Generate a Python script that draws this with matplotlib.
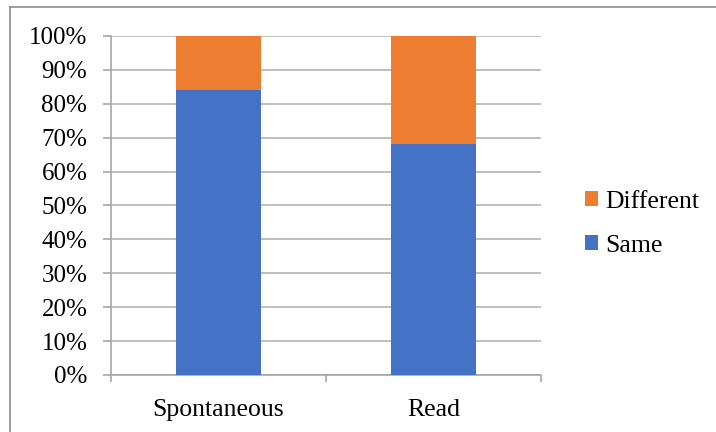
import matplotlib
matplotlib.use("Agg")
import matplotlib.pyplot as plt
from matplotlib.lines import Line2D
from matplotlib.ticker import PercentFormatter, FixedLocator

plt.rcParams['font.family'] = ['Liberation Serif', 'DejaVu Serif']

categories = ["Spontaneous", "Read"]
same = [84, 68]
different = [16, 32]

blue = "#4472C4"
orange = "#ED7D31"
gray = "#A6A6A6"

fig = plt.figure(figsize=(7.16, 4.32), dpi=100)
ax = fig.add_axes([0.155, 0.132, 0.6006, 0.7847])

x = list(range(len(categories)))
b1 = ax.bar(x, same, width=0.395, color=blue, label="Same", zorder=3)
b2 = ax.bar(x, different, width=0.395, bottom=same, color=orange,
            label="Different", zorder=3)

ax.set_xlim(-0.5, len(categories) - 0.5)
ax.set_ylim(0, 100)
ax.set_yticks(range(0, 101, 10))
ax.yaxis.set_major_formatter(PercentFormatter(decimals=0))
ax.yaxis.grid(True, color="#B4B4B4", linewidth=1.2, zorder=0)
ax.set_axisbelow(True)

ax.set_xticks(x)
ax.set_xticklabels(categories)
ax.xaxis.set_minor_locator(FixedLocator([i - 0.5 for i in range(len(categories) + 1)]))
ax.tick_params(axis='x', which='major', length=0, pad=17, labelsize=18.5)
ax.tick_params(axis='x', which='minor', length=5, width=1.2, color=gray, direction='out')
ax.tick_params(axis='y', length=6, width=1.2, color=gray, pad=11, labelsize=18)

for side in ("top", "right"):
    ax.spines[side].set_visible(False)
for side in ("left", "bottom"):
    ax.spines[side].set_color(gray)
    ax.spines[side].set_linewidth(1.2)

ax.legend([b2, b1], ["Different", "Same"], loc="center left",
          bbox_to_anchor=(0.817, 0.482), bbox_transform=fig.transFigure,
          frameon=False, fontsize=18.5, handlelength=0.5, handleheight=0.5,
          handletextpad=0.3, labelspacing=0.85, borderpad=0, borderaxespad=0)

# thin frame lines along the top and left of the figure
fig.add_artist(Line2D([10 / 716, 1], [1 - 7 / 432, 1 - 7 / 432],
                      transform=fig.transFigure, color="#8C8C8C", linewidth=1.2))
fig.add_artist(Line2D([10 / 716, 10 / 716], [0, 1 - 7 / 432],
                      transform=fig.transFigure, color="#8C8C8C", linewidth=1.2))

fig.savefig("out.png", dpi=100)
